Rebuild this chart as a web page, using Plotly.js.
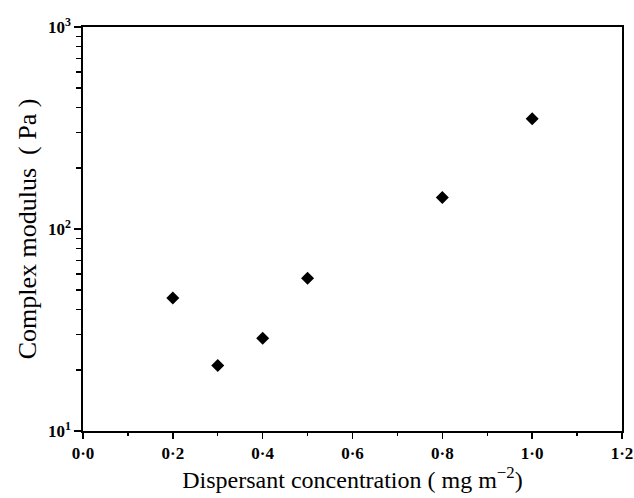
<!DOCTYPE html>
<html><head><meta charset="utf-8">
<script src="https://cdn.plot.ly/plotly-3.0.1.min.js"></script>
<style>html,body{margin:0;padding:0;background:#fff}</style>
</head><body><div id="chart" style="width:634px;height:498px"></div>
<script>
// Data
const concentration = [0.2, 0.3, 0.4, 0.5, 0.8, 1.0];
const modulus = [45.5, 21.1, 28.8, 57.1, 143, 351];
const xTickVals = [0, 0.2, 0.4, 0.6, 0.8, 1.0, 1.2];
const xTickText = ['0·0', '0·2', '0·4', '0·6', '0·8', '1·0', '1·2'];
const xMinorVals = [0.1, 0.3, 0.5, 0.7, 0.9, 1.1];
const yTickVals = [10, 100, 1000];
const yTickText = ['10<sup>1</sup>', '10<sup>2</sup>', '10<sup>3</sup>'];

const yMinorVals = [];
[10, 100].forEach(d => { for (let k = 2; k <= 9; k++) yMinorVals.push(k * d); });

const font = 'Liberation Serif, Times New Roman, serif';

const trace = {
  x: concentration, y: modulus, type: 'scatter', mode: 'markers',
  marker: {symbol: 'diamond', size: 10, color: '#000'},
  hoverinfo: 'x+y'
};

const layout = {
  width: 634, height: 498,
  margin: {l: 83, r: 12, t: 27, b: 67},
  paper_bgcolor: '#fff', plot_bgcolor: '#fff',
  showlegend: false,
  font: {family: font, color: '#000', size: 15},
  xaxis: {
    range: [0, 1.2], tickmode: 'array', tickvals: xTickVals, ticktext: xTickText,
    ticks: 'outside', ticklen: 6, tickwidth: 1.4, tickcolor: '#000',
    minor: {tickmode: 'array', tickvals: xMinorVals, ticks: 'outside', ticklen: 3, tickwidth: 1.4, tickcolor: '#000', showgrid: false},
    showline: true, linecolor: '#000', linewidth: 1.6, mirror: true,
    showgrid: false, zeroline: false, automargin: false,
    tickfont: {family: font, size: 17, color: '#000', weight: 700},
    title: {text: 'Dispersant concentration ( mg m<sup>−2</sup>)', font: {family: font, size: 24, color: '#000'}, standoff: 5}
  },
  yaxis: {
    type: 'log', range: [1, 3], tickmode: 'array', tickvals: yTickVals, ticktext: yTickText,
    ticks: 'outside', ticklen: 7, tickwidth: 1.4, tickcolor: '#000',
    minor: {tickmode: 'array', tickvals: yMinorVals, ticks: 'outside', ticklen: 5, tickwidth: 1.4, tickcolor: '#000', showgrid: false},
    showline: true, linecolor: '#000', linewidth: 1.6, mirror: true,
    showgrid: false, zeroline: false, automargin: false,
    tickfont: {family: font, size: 17, color: '#000', weight: 700},
    title: {text: 'Complex modulus  ( Pa )', font: {family: font, size: 26, color: '#000'}, standoff: 4}
  }
};

Plotly.newPlot('chart', [trace], layout, {displayModeBar: false, staticPlot: true});
</script>
</body></html>
